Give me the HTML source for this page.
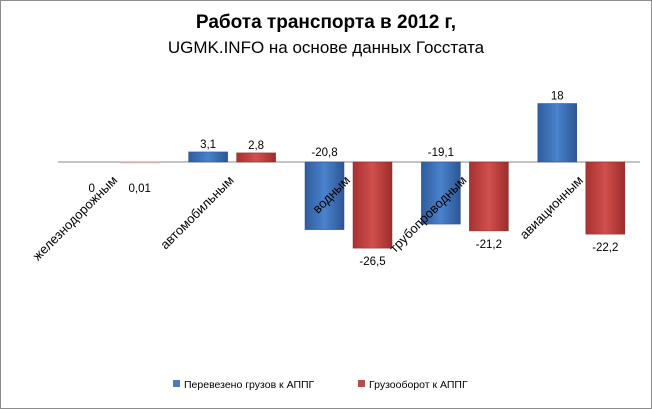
<!DOCTYPE html>
<html><head><meta charset="utf-8"><style>
body{margin:0;background:#fff}
svg{display:block;font-family:"Liberation Sans","DejaVu Sans",sans-serif}
</style></head><body>
<svg width="652" height="409" viewBox="0 0 652 409">
<defs>
<linearGradient id="gb" x1="0" x2="1"><stop offset="0" stop-color="#2e5d9e"/><stop offset=".5" stop-color="#4a82cc"/><stop offset="1" stop-color="#2b5694"/></linearGradient>
<linearGradient id="gr" x1="0" x2="1"><stop offset="0" stop-color="#a8312f"/><stop offset=".5" stop-color="#d0504d"/><stop offset="1" stop-color="#9e2d2b"/></linearGradient>
</defs>
<rect x="0.5" y="0.5" width="651" height="408" fill="#fff" stroke="#8c8c8c"/>
<text x="326" y="28" text-anchor="middle" font-size="19" font-weight="bold">Работа транспорта в 2012 г,</text>
<text x="326" y="53" text-anchor="middle" font-size="17">UGMK.INFO на основе данных Госстата</text>
<g id="plot"></g>
<g>
<rect x="173" y="380" width="7" height="7" fill="#4a7ebb"/>
<text x="184" y="388" font-size="10.5">Перевезено грузов к АППГ</text>
<rect x="358" y="380" width="7" height="7" fill="#be4b48"/>
<text x="369" y="388" font-size="10.5">Грузооборот к АППГ</text>
</g>
</svg>
<script>
const categories=["железнодорожным","автомобильным","водным","трубопроводным","авиационным"];
const transported=[0,3.1,-20.8,-19.1,18];
const turnover=[0.01,2.8,-26.5,-21.2,-22.2];
const transportedLabels=["0","3,1","-20,8","-19,1","18"];
const turnoverLabels=["0,01","2,8","-26,5","-21,2","-22,2"];
const NS="http://www.w3.org/2000/svg";
const g=document.getElementById('plot');
const x0=58,x1=640,base=162,k=3.25;
const cw=(x1-x0)/categories.length;
const y=v=>base-v*k;
const cx=i=>x0+cw*(i+0.5);
function mk(t,a){const e=document.createElementNS(NS,t);for(const n in a)e.setAttribute(n,a[n]);g.appendChild(e);return e;}
const ax=mk('line',{x1:x0,x2:x1,y1:base,y2:base,stroke:'#888','stroke-width':1});


const bw=39;
[[transported,transportedLabels,'url(#gb)','#2c4f80',-44,'transported'],[turnover,turnoverLabels,'url(#gr)','#8a2a28',4,'turnover']].forEach(([vals,labs,fill,st,off,nm])=>{
vals.forEach((v,i)=>{
const top=Math.min(y(v),base),h=Math.max(Math.abs(v*k),1);
if(v!==0){
const small=Math.abs(v)<0.5;
const r=mk('rect',{x:cx(i)+off,y:top,width:bw,height:h,fill:small?'#d8b8b6':fill,stroke:small?'#c8a8a6':st,'stroke-width':small?0.5:0.5});


}
let ly;
if(Math.abs(v)<0.5) ly=base+30;
else if(v>0) ly=top-4;
else if(nm==='transported') ly=base-6;
else ly=top+h+17;
const t=mk('text',{x:cx(i)+off+bw/2,y:ly,'text-anchor':'middle','font-size':11.5});
t.textContent=labs[i];


});
});
categories.forEach((c,i)=>{
const px=cx(i)+2,py=181;
const t=mk('text',{x:px,y:py,'text-anchor':'end','font-size':13,transform:`rotate(-45 ${px} ${py})`});
t.textContent=c;


});
</script>
</body></html>
